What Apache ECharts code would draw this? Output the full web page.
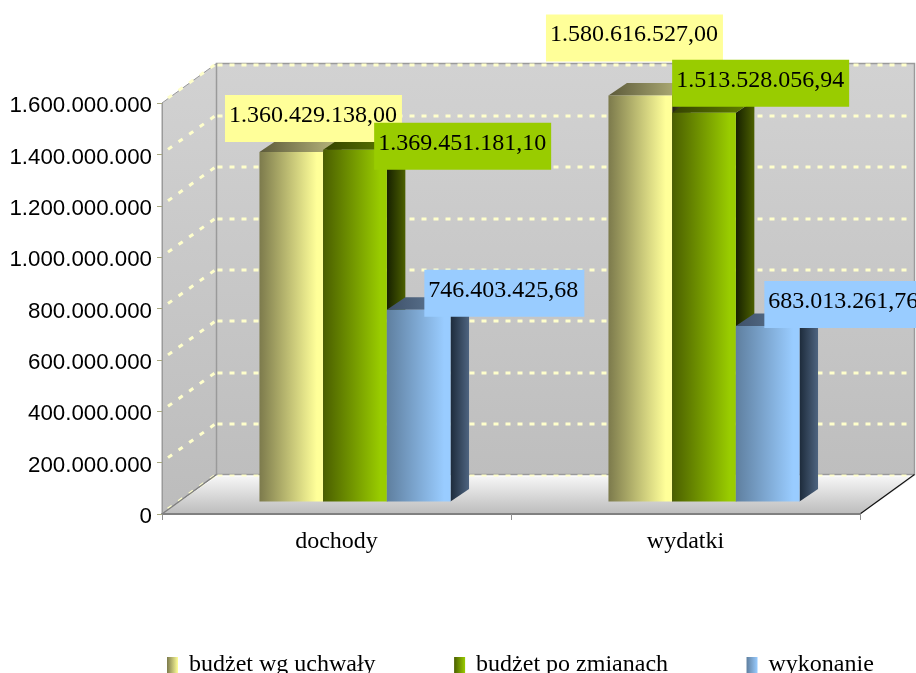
<!DOCTYPE html>
<html>
<head>
<meta charset="utf-8">
<style>html,body{margin:0;padding:0;background:#fff;overflow:hidden}#c{width:916px;height:673px}</style>
<script src="https://cdn.jsdelivr.net/npm/echarts@6/dist/echarts.min.js"></script>
</head>
<body>
<div id="c"></div>
<script>
const categories = ['dochody', 'wydatki'];
const budzetWgUchwaly = [1360429138.00, 1580616527.00];
const budzetPoZmianach = [1369451181.10, 1513528056.94];
const wykonanie = [746403425.68, 683013261.76];
const gridValues = [0, 200000000, 400000000, 600000000, 800000000, 1000000000, 1200000000, 1400000000, 1600000000];

// Manually placed data labels: box offset from the bar's front top-left corner
const labelShift = [
  [[-34.5, -57], [51, -27], [37.5, -40]],
  [[-62.5, -81], [0, -53], [28.5, -45]]
];

const DEPTH = [54.5, -39.5];
const BAR_SHIFT = [18.5, -12.5];
const BAR_RATIO = 0.1825;
const SERIF = '"Liberation Serif"';

function grad(stops) {
  return new echarts.graphic.LinearGradient(0, 0, 1, 0, stops.map(s => ({offset: s[0], color: s[1]})));
}
function vgrad(a, b) {
  return new echarts.graphic.LinearGradient(0, 0, 0, 1, [{offset: 0, color: a}, {offset: 1, color: b}]);
}
const palettes = [
  {front: ['#7c7a4c', '#ffff99'], top: ['#5c5a3a', '#bdbb80'], side: ['#22220f', '#6a6a40']},
  {front: ['#4a5e00', '#99cc00'], top: ['#344200', '#648400'], side: ['#162000', '#4c6000']},
  {front: ['#5f7f9f', '#99ccff'], top: ['#3e5068', '#6f8cab'], side: ['#1d2b3b', '#4e6480']}
];
function fmtLabel(v) {
  const p = v.toFixed(2).split('.');
  return p[0].replace(/\B(?=(\d{3})+(?!\d))/g, '.') + ',' + p[1];
}
function fmtTick(v) {
  return String(v).replace(/\B(?=(\d{3})+(?!\d))/g, '.');
}

function renderWalls(params, api) {
  const c = params.coordSys;
  const l = c.x, t = c.y, b = c.y + c.height;
  const dx = DEPTH[0], dy = DEPTH[1];
  const edge = '#9a9a9a';
  return {type: 'group', children: [
    {type: 'polygon', shape: {points: [[l, b], [l + dx, b + dy], [l + dx, t + dy], [l, t]]},
      style: {fill: vgrad('#d2d2d2', '#bcbcbc'), stroke: edge, lineWidth: 1}},
    {type: 'rect', shape: {x: l + dx, y: t + dy, width: c.width, height: c.height},
      style: {fill: vgrad('#d2d2d2', '#bebebe'), stroke: edge, lineWidth: 1.5}}
  ]};
}
function renderGrid(params, api) {
  const c = params.coordSys;
  const y = api.coord([0, api.value(1)])[1];
  const l = c.x, r = c.x + c.width;
  const dx = DEPTH[0], dy = DEPTH[1];
  const yb = Math.round(y + dy) + 1;
  return {type: 'group', children: [
    {type: 'line', shape: {x1: l + 6, y1: y - 5, x2: l + dx, y2: y + dy},
      style: {stroke: '#ffffcc', lineWidth: 3, lineDash: [5, 8], lineCap: 'butt'}},
    {type: 'line', shape: {x1: l + dx + 1, y1: yb, x2: r + dx - 3, y2: yb},
      style: {stroke: '#ffffcc', lineWidth: 3, lineDash: [5, 7], lineCap: 'butt'}}
  ]};
}
function renderFloor(params, api) {
  const c = params.coordSys;
  const l = c.x, r = c.x + c.width, b = c.y + c.height;
  const dx = DEPTH[0], dy = DEPTH[1];
  return {type: 'group', children: [
    {type: 'polygon', shape: {points: [[l, b], [r, b], [r + dx, b + dy + 2], [l + dx, b + dy + 2]]},
      style: {fill: vgrad('#f6f6f6', '#bcbcbc')}},
    {type: 'line', shape: {x1: l, y1: b, x2: l + dx, y2: b + dy}, style: {stroke: '#808080', lineWidth: 1.5}},
    {type: 'line', shape: {x1: r, y1: b, x2: r + dx, y2: b + dy}, style: {stroke: '#111111', lineWidth: 1.2}}
  ]};
}
function makeBarRenderer(s) {
  return function (params, api) {
    const cat = api.value(0), val = api.value(1);
    const top = api.coord([cat, val]);
    const base = api.coord([cat, 0]);
    const w = api.size([1, 0])[0] * BAR_RATIO;
    const x0 = top[0] + BAR_SHIFT[0] + (s - 1.5) * w;
    const yt = top[1] + BAR_SHIFT[1], yb = base[1] + BAR_SHIFT[1];
    const x1 = x0 + w;
    const ox = BAR_SHIFT[0], oy = BAR_SHIFT[1];
    const p = palettes[s];
    const shift = labelShift[cat][s];
    const bx = x0 + shift[0], by = yt + shift[1];
    return {type: 'group', children: [
      {type: 'polygon', shape: {points: [[x1, yb], [x1 + ox, yb + oy], [x1 + ox, yt + oy], [x1, yt]]},
        style: {fill: grad([[0, p.side[0]], [1, p.side[1]]])}},
      {type: 'polygon', shape: {points: [[x0, yt], [x1, yt], [x1 + ox, yt + oy], [x0 + ox, yt + oy]]},
        style: {fill: grad([[0, p.top[0]], [1, p.top[1]]])}},
      {type: 'rect', shape: {x: x0, y: yt, width: w, height: yb - yt},
        style: {fill: grad([[0, p.front[0]], [0.9, p.front[1]], [1, p.front[1]]])}},
      {type: 'rect', z2: 100 + 2 * s, shape: {x: bx, y: by, width: s === 2 ? 160 : 177, height: 47},
        style: {fill: p.front[1]}},
      {type: 'text', z2: 101 + 2 * s, x: bx + 4, y: by + 20.5,
        style: {text: fmtLabel(val), font: '24px ' + SERIF, fill: '#000', textAlign: 'left', textVerticalAlign: 'middle'}}
    ]};
  };
}
const seriesNames = ['budżet wg uchwały', 'budżet po zmianach', 'wykonanie'];
const seriesValues = [budzetWgUchwaly, budzetPoZmianach, wykonanie];

const chart = echarts.init(document.getElementById('c'), null, {renderer: 'canvas'});
chart.setOption({
  animation: false,
  backgroundColor: '#fff',
  tooltip: {show: false},
  grid: {left: 162, right: 56, top: 103, bottom: 159, containLabel: false},
  legend: {
    left: 167, top: 653, padding: 0, orient: 'horizontal', itemGap: 78.5,
    itemWidth: 11, itemHeight: 16, selectedMode: false, icon: 'rect',
    textStyle: {fontFamily: SERIF, fontSize: 24, color: '#000', padding: [0, 0, 0, 6]},
    data: seriesNames.map((n, i) => ({name: n, icon: 'rect', itemStyle: {
      color: new echarts.graphic.LinearGradient(0, 0, 1, 0, [
        {offset: 0, color: palettes[i].front[0]}, {offset: 1, color: palettes[i].front[1]}])}}))
  },
  xAxis: {
    type: 'category', data: categories, z: 6,
    axisLine: {show: true, lineStyle: {color: '#808080', width: 2}},
    axisTick: {show: true, alignWithLabel: false, length: 6, lineStyle: {color: '#909090', width: 1}},
    axisLabel: {fontFamily: SERIF, fontSize: 24, color: '#000', margin: 16}
  },
  yAxis: {
    type: 'value', min: 0, max: 1600000000, interval: 200000000, z: 6,
    splitLine: {show: false},
    axisLine: {show: true, lineStyle: {color: '#9a9a9a', width: 1}},
    axisTick: {show: true, length: 5, lineStyle: {color: '#a8a880', width: 1}},
    axisLabel: {fontFamily: '"Liberation Sans"', fontSize: 22.3, color: '#000', margin: 10, verticalAlign: 'top', lineHeight: 6, formatter: fmtTick}
  },
  series: [
    {type: 'custom', name: 'sciany', silent: true, renderItem: renderWalls, data: [[0, 0]], z: 2},
    {type: 'custom', name: 'siatka', silent: true, renderItem: renderGrid, data: gridValues.map(v => [0, v]), z: 2},
    {type: 'custom', name: 'podloga', silent: true, renderItem: renderFloor, data: [[0, 0]], z: 2}
  ].concat(seriesNames.map((n, s) => ({
    type: 'custom', name: n, silent: true, renderItem: makeBarRenderer(s), z: 3,
    itemStyle: {color: palettes[s].front[1]},
    data: seriesValues[s].map((v, i) => [i, v])
  })))
});
</script>
</body>
</html>
